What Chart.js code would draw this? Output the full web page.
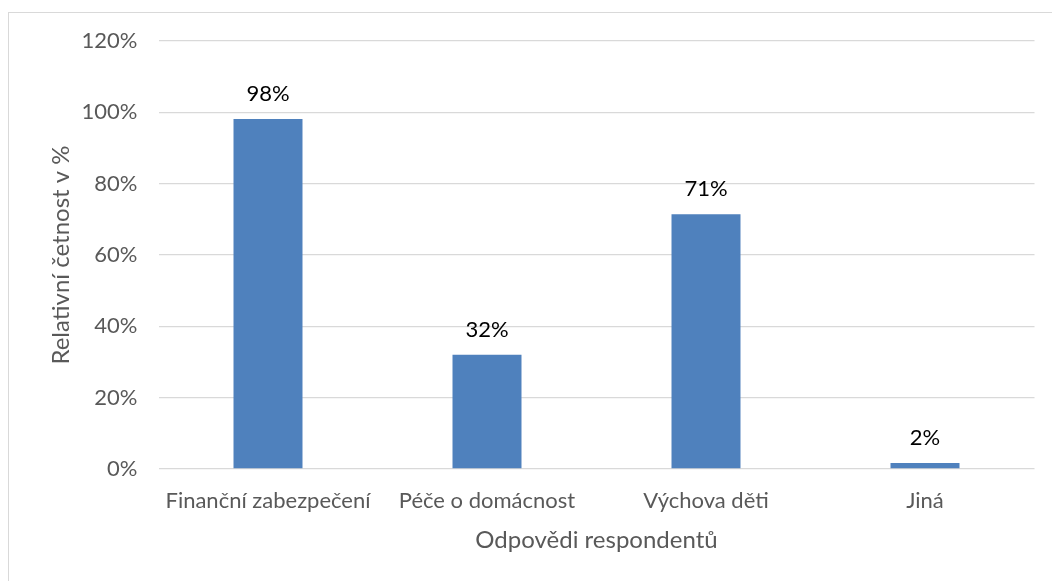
<!DOCTYPE html>
<html>
<head>
<meta charset="utf-8">
<script src="https://cdn.jsdelivr.net/npm/chart.js@4/dist/chart.umd.min.js"></script>
<style>
  html, body { margin: 0; padding: 0; background: #fff; overflow: hidden; }
  #frame { position: absolute; left: 8px; top: 12px; width: 1100px; height: 620px; border: 1px solid #d9d9d9; }
  #chart { position: absolute; left: 0; top: 0; }
</style>
</head>
<body>
<div id="frame"></div>
<canvas id="chart" width="1052" height="581"></canvas>
<script>
// data
const categories = ["Finanční zabezpečení", "Péče o domácnost", "Výchova děti", "Jiná"];
const shares = [98.1, 32.0, 71.4, 1.7];
const yTicks = [0, 20, 40, 60, 80, 100, 120];

const FONT = "Lato, 'Noto Sans', sans-serif";

// draws the % value above each bar
const barLabels = {
  id: "barLabels",
  afterDatasetsDraw(chart) {
    const ctx = chart.ctx;
    const meta = chart.getDatasetMeta(0);
    ctx.save();
    ctx.font = "22px " + FONT;
    ctx.fillStyle = "#000";
    ctx.textAlign = "center";
    ctx.textBaseline = "middle";
    meta.data.forEach((bar, i) => {
      ctx.fillText(Math.round(shares[i]) + "%", bar.x, bar.y - 25);
    });
    ctx.restore();
  },
};

new Chart(document.getElementById("chart"), {
  type: "bar",
  data: {
    labels: categories,
    datasets: [
      {
        data: shares,
        backgroundColor: "#4f81bd",
        barPercentage: 0.315,
        categoryPercentage: 1,
      },
    ],
  },
  options: {
    responsive: false,
    animation: false,
    devicePixelRatio: 1,
    layout: { padding: { left: 0, right: 17.5, top: 41, bottom: 0 } },
    plugins: { legend: { display: false }, tooltip: { enabled: false } },
    scales: {
      x: {
        grid: { display: false },
        border: { display: false },
        ticks: { color: "#595959", font: { family: FONT, size: 22 }, padding: 11, maxRotation: 0 },
        title: {
          display: true,
          text: "Odpovědi respondentů",
          color: "#595959",
          font: { family: FONT, size: 24 },
          padding: { top: 0, bottom: 26 },
        },
        afterFit(scale) { scale.height = 112; },
      },
      y: {
        min: 0,
        max: 120,
        afterBuildTicks(scale) { scale.ticks = yTicks.map((v) => ({ value: v })); },
        grid: { color: "#d9d9d9", lineWidth: 1.3, drawTicks: false },
        border: { display: false },
        ticks: {
          color: "#595959",
          font: { family: FONT, size: 22 },
          padding: 21,
          callback: (v) => v + "%",
        },
        title: {
          display: true,
          text: "Relativní četnost v %",
          color: "#595959",
          font: { family: FONT, size: 24 },
          padding: { top: 47, bottom: 0 },
        },
        afterFit(scale) { scale.width = 158.5; },
      },
    },
  },
  plugins: [barLabels],
});
</script>
</body>
</html>
